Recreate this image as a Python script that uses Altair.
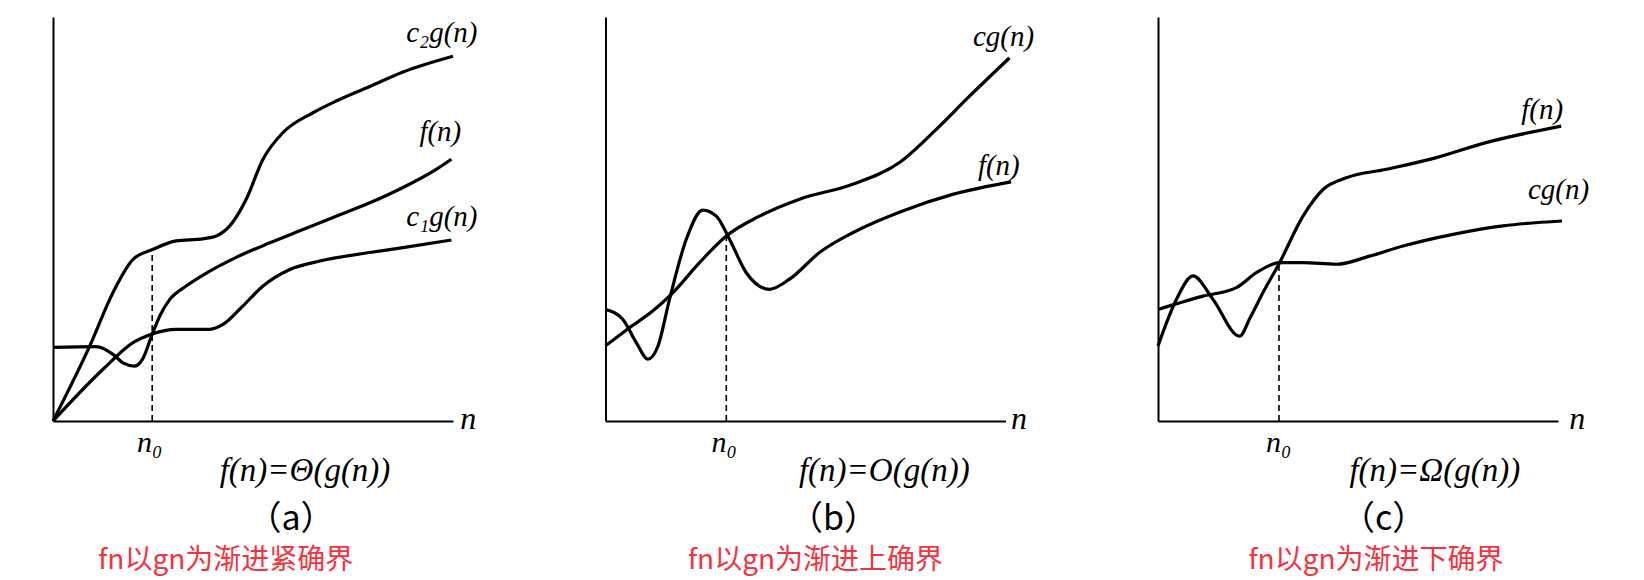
import altair as alt
import pandas as pd

# ---------------- data (x: 0-100 along n, y: 0-100) ----------------
# Panel (a)  f(n) = Theta(g(n))
a_c2g_x = [0, 9.2, 15, 20, 25, 30.8, 37.5, 40.8, 44.2, 48.3, 52.5, 57.5, 65, 70.8, 79.2, 87.5, 100]
a_c2g_y = [0, 18.6, 31.8, 40, 42.5, 44.6, 45.1, 45.8, 48.3, 54.9, 64.8, 71.4, 76.3, 79.2, 82.8, 86.4, 90.3]
a_f_x = [0, 10.8, 15, 17.5, 20.4, 22.5, 24.8, 26.7, 29.2, 33.3, 37.5, 45.8, 54.2, 62.5, 70.8, 79.2, 87.5, 95.8, 99.6]
a_f_y = [18.2, 18.4, 16.5, 14.4, 13.6, 15.5, 21.5, 26, 30.1, 33.4, 36.1, 40.5, 44.1, 47.4, 50.7, 54, 57.8, 62.3, 64.8]
a_c1g_x = [0, 12.5, 20, 24.6, 30.8, 39.2, 42.5, 47.5, 52.5, 59.2, 66.7, 79.2, 87.5, 99.6]
a_c1g_y = [0, 12.8, 19.4, 21.5, 22.7, 22.7, 23.9, 28.5, 33.4, 37.5, 39.6, 41.7, 42.9, 44.8]
a_n0 = [24.8, 42.4]

# Panel (b)  f(n) = O(g(n))
b_cg_x = [0, 6, 11.8, 16.8, 23.5, 30.2, 38.5, 48.5, 61.8, 73.5, 82.7, 91, 101]
b_cg_y = [18.6, 23.1, 27.2, 31.7, 39.2, 45.8, 50.7, 54.9, 58.6, 64, 72.2, 80.4, 89.9]
b_f_x = [0, 4.3, 7.7, 10.6, 13.1, 16, 20.2, 24.3, 27.7, 31, 35.2, 41, 46, 53.5, 61.8, 74.3, 86.8, 101.4]
b_f_y = [27.6, 25.2, 19.4, 15.3, 18.5, 30.1, 45, 52.2, 50.7, 45, 36.7, 32.6, 35.1, 41.7, 46.6, 52, 56.1, 59.2]
b_n0 = [30.2, 45.8]

# Panel (c)  f(n) = Omega(g(n))
c_f_x = [0, 4.6, 8.75, 13.75, 20.4, 23, 26.25, 30.4, 36.25, 41.25, 47.1, 57.1, 69.6, 82, 100.8]
c_f_y = [18.6, 30.1, 35.9, 30.1, 21, 25.5, 31.8, 39.2, 50.7, 57.3, 60.2, 62.3, 65.2, 68.9, 73]
c_cg_x = [0, 11.25, 19.6, 24.6, 30.4, 36.25, 44.6, 52.9, 61.25, 73.75, 86.25, 101]
c_cg_y = [27.6, 30.9, 33, 36.7, 39.2, 39.2, 38.8, 40.8, 43.3, 46.2, 48.3, 49.5]
c_n0 = [30.25, 39.2]

# ---------------- texts ----------------
a_curve_labels = ["c₂g(n)", "f(n)", "c₁g(n)"]
a_curve_label_xy = [(88.3, 93.7), (91.6, 69.2), (88.3, 48.2)]
b_curve_labels = ["cg(n)", "f(n)"]
b_curve_label_xy = [(91.85, 92.7), (93.1, 61.0)]
c_curve_labels = ["f(n)", "cg(n)"]
c_curve_label_xy = [(90.8, 74.7), (92.5, 54.9)]

formulas = ["f(n)=Θ(g(n))", "f(n)=O(g(n))", "f(n)=Ω(g(n))"]
captions = ["（a）", "（b）", "（c）"]
notes = ["fn以gn为渐进紧确界", "fn以gn为渐进上确界", "fn以gn为渐进下确界"]
# anchor x positions (data units) of: axis 'n', n0 label, formula, caption, note
a_text_x = [101.8, 24.2, 63.0, 59.5, 43.2]
b_text_x = [101.4, 29.7, 69.7, 57.0, 52.5]
c_text_x = [102.8, 30.2, 69.2, 56.4, 54.5]
# baselines (data units, below the n axis)
text_y = [-2.05, -7.75, -14.9, -27.0, -36.7]

SERIF = "Liberation Serif"
SX = alt.Scale(domain=[0, 100], nice=False, zero=False)
SY = alt.Scale(domain=[0, 100], nice=False, zero=False)


def txt(df, **kw):
    base = dict(baseline="alphabetic", color="black")
    base.update(kw)
    return alt.Chart(df).mark_text(**base).encode(
        x=alt.X("x:Q", scale=SX, title=None),
        y=alt.Y("y:Q", scale=SY, title=None),
        text="text:N",
    )


def panel(curves, n0, labels, label_xy, tx, formula, caption, note):
    rows = []
    for name, xs, ys in curves:
        for i, (x, y) in enumerate(zip(xs, ys)):
            rows.append({"series": name, "x": x, "y": y, "order": i})
    df = pd.DataFrame(rows)

    lines = alt.Chart(df).mark_line(
        color="black", strokeWidth=3.2, interpolate="monotone"
    ).encode(
        x=alt.X("x:Q", scale=SX, title=None),
        y=alt.Y("y:Q", scale=SY, title=None),
        detail="series:N",
        order="order:Q",
    )

    rule = alt.Chart(pd.DataFrame({"x": [n0[0]], "y": [0], "y2": [n0[1]]})).mark_rule(
        color="black", strokeWidth=1.6, strokeDash=[6, 4]
    ).encode(
        x=alt.X("x:Q", scale=SX, title=None),
        y=alt.Y("y:Q", scale=SY, title=None),
        y2="y2:Q",
    )

    lab_df = pd.DataFrame({"text": labels,
                           "x": [p[0] for p in label_xy],
                           "y": [p[1] for p in label_xy]})
    curve_text = txt(lab_df, align="left", font=SERIF, fontStyle="italic", fontSize=29)

    axis_n = txt(pd.DataFrame({"text": ["n"], "x": [tx[0]], "y": [text_y[0]]}),
                 align="left", font=SERIF, fontStyle="italic", fontSize=32)
    n0_text = txt(pd.DataFrame({"text": ["n₀"], "x": [tx[1]], "y": [text_y[1]]}),
                  align="center", font=SERIF, fontStyle="italic", fontSize=30)
    form_text = txt(pd.DataFrame({"text": [formula], "x": [tx[2]], "y": [text_y[2]]}),
                    align="center", font=SERIF, fontStyle="italic", fontSize=33)
    cap_text = txt(pd.DataFrame({"text": [caption], "x": [tx[3]], "y": [text_y[3]]}),
                   align="center", font="Noto Sans CJK SC", fontSize=34)
    note_text = txt(pd.DataFrame({"text": [note], "x": [tx[4]], "y": [text_y[4]]}),
                    align="center", font="Noto Sans CJK SC", fontSize=28, color="#f4333f")

    return alt.layer(lines, rule, curve_text, axis_n, n0_text, form_text,
                     cap_text, note_text).properties(width=400, height=404)


pa = panel([("c2g", a_c2g_x, a_c2g_y), ("f", a_f_x, a_f_y), ("c1g", a_c1g_x, a_c1g_y)],
           a_n0, a_curve_labels, a_curve_label_xy, a_text_x, formulas[0], captions[0], notes[0])
pb = panel([("cg", b_cg_x, b_cg_y), ("f", b_f_x, b_f_y)],
           b_n0, b_curve_labels, b_curve_label_xy, b_text_x, formulas[1], captions[1], notes[1])
pc = panel([("f", c_f_x, c_f_y), ("cg", c_cg_x, c_cg_y)],
           c_n0, c_curve_labels, c_curve_label_xy, c_text_x, formulas[2], captions[2], notes[2])

chart = alt.hconcat(pa, pb, pc, spacing=152.5, bounds="flush").configure_view(
    strokeWidth=0
).configure_axis(
    domain=True, domainColor="black", domainWidth=2,
    ticks=False, labels=False, grid=False,
).properties(
    padding={"left": 38, "top": 9, "right": 5, "bottom": 0}
)

chart.save("out.html", embed_options={"renderer": "svg", "actions": False})
